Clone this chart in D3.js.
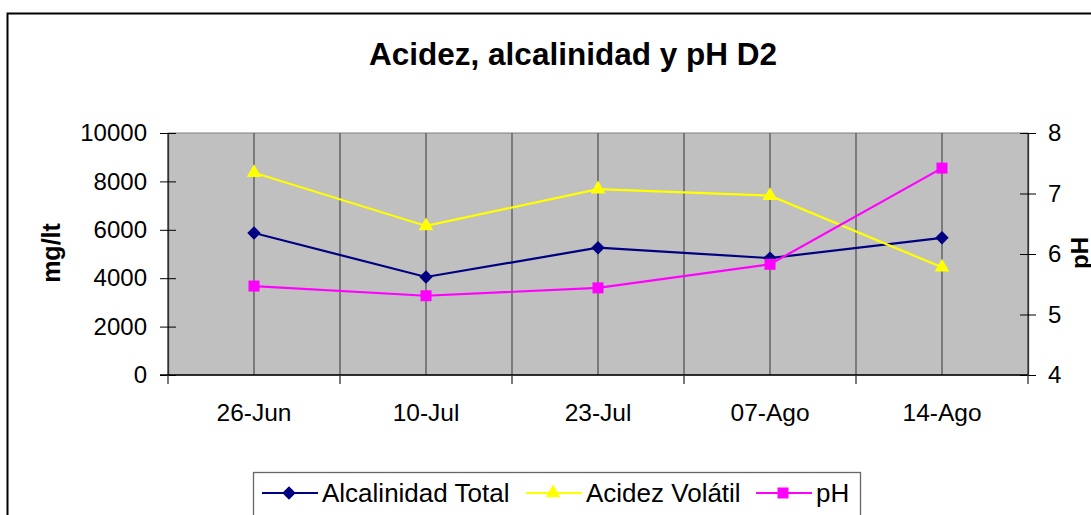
<!DOCTYPE html>
<html lang="en">
<head>
    <meta charset="utf-8" />
    <title>Acidez, alcalinidad y pH D2</title>
    <script src="https://d3js.org/d3.v7.min.js"></script>
    <style>
        body { margin: 0; background: #fff; }
        text { font-family: "Liberation Sans", Arial, sans-serif; fill: #000; }
    </style>
</head>
<body>
    <div id="chart"></div>
    <script>
        // data
        const categories = ["26-Jun", "10-Jul", "23-Jul", "07-Ago", "14-Ago"];
        const alcalinidad = [5870, 4050, 5260, 4830, 5670];
        const acidez = [8360, 6160, 7680, 7410, 4450];
        const ph = [5.47, 5.31, 5.44, 5.83, 7.42];
        const leftTicks = [0, 2000, 4000, 6000, 8000, 10000];
        const rightTicks = [4, 5, 6, 7, 8];

        const W = 1091, H = 515;
        const svg = d3.select("#chart").append("svg")
            .attr("width", W)
            .attr("height", H);

        // chart frame (runs off right and bottom edges)
        svg.append("rect")
            .attr("x", 7.5).attr("y", 13.5)
            .attr("width", 1200).attr("height", 600)
            .attr("fill", "#fff").attr("stroke", "#000").attr("stroke-width", 2);

        const plot = { left: 168, right: 1028, top: 133, bottom: 375 };

        const x = d3.scaleBand().domain(categories).range([plot.left, plot.right]);
        const yL = d3.scaleLinear().domain([0, 10000]).range([plot.bottom, plot.top]);
        const yR = d3.scaleLinear().domain([4, 8]).range([plot.bottom, plot.top]);
        const cx = d => x(d) + x.bandwidth() / 2;

        // plot background
        svg.append("rect")
            .attr("x", plot.left).attr("y", plot.top)
            .attr("width", plot.right - plot.left).attr("height", plot.bottom - plot.top)
            .attr("fill", "#c0c0c0").attr("stroke", "#808080").attr("stroke-width", 1);

        // vertical gridlines at band edges and centres
        const gridX = [];
        categories.forEach(c => { gridX.push(x(c)); gridX.push(cx(c)); });
        gridX.push(plot.right);
        svg.append("g").selectAll("line")
            .data(gridX)
            .enter().append("line")
            .attr("x1", d => d).attr("x2", d => d)
            .attr("y1", plot.top).attr("y2", plot.bottom)
            .attr("stroke", "#555").attr("stroke-width", 1.3);

        // left axis
        const gl = svg.append("g")
            .attr("transform", `translate(${plot.left},0)`)
            .call(d3.axisLeft(yL).tickValues(leftTicks).tickFormat(d3.format("d"))
                .tickSizeInner(8).tickSizeOuter(0).tickPadding(13));
        gl.select(".domain").attr("stroke", "#333").attr("stroke-width", 1.3);
        gl.selectAll(".tick line").attr("x1", 8).attr("stroke", "#000");
        gl.selectAll(".tick text").attr("font-size", 24).attr("font-family", "Liberation Sans, Arial, sans-serif");

        // right axis
        const gr = svg.append("g")
            .attr("transform", `translate(${plot.right},0)`)
            .call(d3.axisRight(yR).tickValues(rightTicks).tickFormat(d3.format("d"))
                .tickSizeInner(8).tickSizeOuter(0).tickPadding(12));
        gr.select(".domain").attr("stroke", "#333").attr("stroke-width", 1.3);
        gr.selectAll(".tick line").attr("x1", -8).attr("stroke", "#000");
        gr.selectAll(".tick text").attr("font-size", 24).attr("font-family", "Liberation Sans, Arial, sans-serif");

        // bottom axis: labels at centres, ticks at band edges
        const gb = svg.append("g")
            .attr("transform", `translate(0,${plot.bottom})`)
            .call(d3.axisBottom(x).tickSize(0).tickPadding(29));
        gb.select(".domain").remove();
        gb.selectAll(".tick text").attr("font-size", 24.5).attr("font-family", "Liberation Sans, Arial, sans-serif");
        svg.append("line")
            .attr("x1", plot.left - 8).attr("x2", plot.right)
            .attr("y1", plot.bottom).attr("y2", plot.bottom)
            .attr("stroke", "#000").attr("stroke-width", 1.3);
        const edges = categories.map(c => x(c)).concat([plot.right]);
        svg.append("g").selectAll("line")
            .data(edges)
            .enter().append("line")
            .attr("x1", d => d).attr("x2", d => d)
            .attr("y1", plot.bottom).attr("y2", plot.bottom + 9)
            .attr("stroke", "#333").attr("stroke-width", 1.3);

        // titles
        svg.append("text")
            .attr("x", 573).attr("y", 65)
            .attr("text-anchor", "middle")
            .attr("font-size", 31.5).attr("font-weight", "bold")
            .text("Acidez, alcalinidad y pH D2");
        svg.append("text")
            .attr("transform", "translate(60,253) rotate(-90)")
            .attr("text-anchor", "middle")
            .attr("font-size", 25).attr("font-weight", "bold")
            .text("mg/lt");
        svg.append("text")
            .attr("transform", "translate(1088,253) rotate(-90)")
            .attr("text-anchor", "middle")
            .attr("font-size", 24).attr("font-weight", "bold")
            .text("pH");

        // marker shapes
        const diamond = {
            draw(ctx, size) {
                const r = Math.sqrt(size / 2);
                ctx.moveTo(0, -r); ctx.lineTo(r, 0); ctx.lineTo(0, r); ctx.lineTo(-r, 0); ctx.closePath();
            }
        };

        // series
        const series = [
            { name: "Alcalinidad Total", values: alcalinidad, y: yL, color: "#000080", shape: diamond, size: 90 },
            { name: "Acidez Volátil", values: acidez, y: yL, color: "#ffff00", shape: d3.symbolTriangle, size: 95 },
            { name: "pH", values: ph, y: yR, color: "#ff00ff", shape: d3.symbolSquare, size: 121 }
        ];

        const line = (s) => d3.line()
            .x((d, i) => cx(categories[i]))
            .y(d => s.y(d));

        series.forEach(s => {
            svg.append("path")
                .datum(s.values)
                .attr("d", line(s))
                .attr("fill", "none")
                .attr("stroke", s.color)
                .attr("stroke-width", 2.2);
            svg.append("g").selectAll("path")
                .data(s.values)
                .enter().append("path")
                .attr("d", d3.symbol().type(s.shape).size(s.size))
                .attr("transform", (d, i) => `translate(${cx(categories[i])},${s.y(d)})`)
                .attr("fill", s.color);
        });

        // legend
        const lg = svg.append("g");
        lg.append("rect")
            .attr("x", 253.5).attr("y", 472.5)
            .attr("width", 607).attr("height", 80)
            .attr("fill", "#fff").attr("stroke", "#666").attr("stroke-width", 1.3);
        const legendX = [262, 526, 756];
        series.forEach((s, i) => {
            const g = lg.append("g").attr("transform", `translate(${legendX[i]},493)`);
            g.append("line")
                .attr("x1", 0).attr("x2", 56)
                .attr("stroke", s.color).attr("stroke-width", 2.2);
            g.append("path")
                .attr("d", d3.symbol().type(s.shape).size(s.size))
                .attr("transform", "translate(27,0)")
                .attr("fill", s.color);
            g.append("text")
                .attr("x", 60).attr("y", 9)
                .attr("font-size", 26)
                .text(s.name);
        });
    </script>
</body>
</html>
